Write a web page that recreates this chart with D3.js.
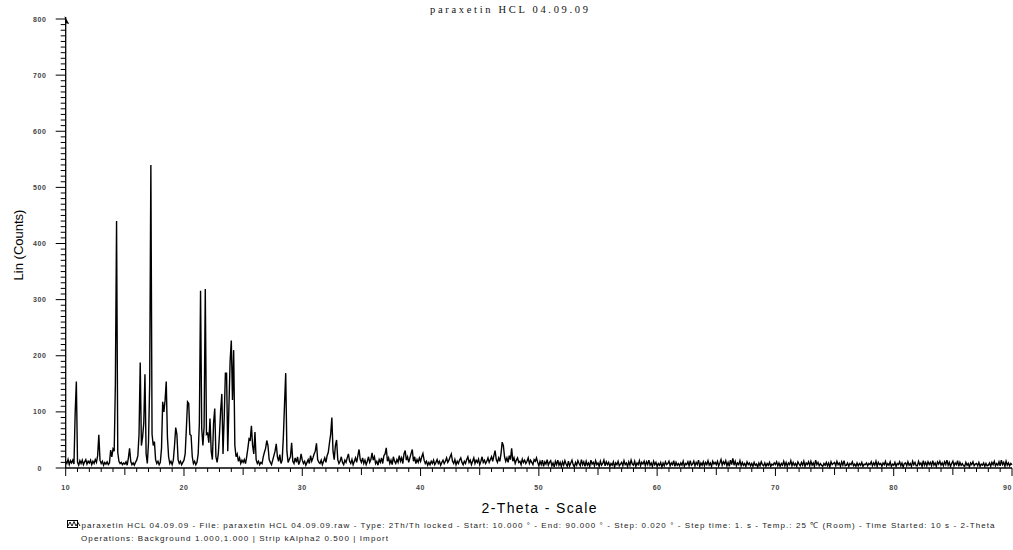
<!DOCTYPE html>
<meta charset="utf-8">
<style type="text/css">
    body { margin: 0; background: #ffffff; }
    svg { display: block; }
    .tick-label { font-family: "Liberation Sans", Arial, sans-serif; font-size: 7px; font-weight: bold; fill: #444; letter-spacing: 0.6px; }
    .footer { font-family: "Liberation Sans", Arial, sans-serif; font-size: 8px; fill: #222; }
</style>
<svg id="chart" width="1013" height="550"></svg>
<script src="https://cdn.jsdelivr.net/npm/d3@7/dist/d3.min.js"></script>
<script>
// scan settings (from the footer): start 10.000, step read at 0.1 deg off the plot
var startTheta = 10;
var stepTheta = 0.1;

// counts, one row per degree (x.0 ... x.9)
var countsPeaks = [ // 10 - 29.9
    12, 8, 15, 6, 13, 9, 14, 7, 98, 154,
    10, 5, 13, 8, 14, 6, 11, 15, 7, 12,
    9, 14, 6, 12, 8, 15, 10, 22, 59, 14,
    8, 12, 5, 10, 7, 11, 6, 9, 32, 20,
    34, 30, 150, 440, 28, 12, 8, 10, 6, 9,
    7, 11, 5, 18, 35, 12, 6, 9, 5, 10,
    14, 22, 60, 188, 40, 55, 80, 167, 25, 8,
    45, 150, 540, 60, 40, 47, 15, 8, 12, 6,
    10, 35, 118, 100, 120, 154, 55, 20, 8, 12,
    6, 14, 40, 72, 60, 15, 8, 12, 6, 10,
    14, 25, 70, 118, 115, 60, 58, 20, 8, 12,
    6, 10, 25, 80, 316, 70, 40, 74, 319, 60,
    62, 45, 88, 30, 15, 80, 106, 20, 10, 25,
    60, 103, 132, 25, 90, 169, 169, 30, 110, 190,
    227, 121, 210, 40, 20, 25, 12, 18, 8, 14,
    10, 15, 8, 20, 35, 52, 50, 75, 40, 25,
    64, 15, 8, 12, 6, 10, 8, 20, 28, 35,
    49, 40, 15, 10, 6, 14, 22, 30, 43, 20,
    12, 24, 8, 14, 55, 114, 169, 30, 10, 15,
    20, 45, 12, 8, 18, 10, 20, 6, 12, 25
];
var countsMid = [ // 30 - 49.9
    14, 8, 12, 5, 10, 15, 8, 22, 12, 18,
    25, 30, 44, 15, 10, 8, 14, 6, 12, 18,
    10, 22, 28, 45, 60, 90, 30, 15, 40, 50,
    15, 8, 12, 20, 10, 6, 14, 10, 18, 25,
    12, 8, 15, 6, 12, 18, 10, 22, 33, 15,
    10, 18, 8, 14, 6, 12, 20, 10, 15, 27,
    14, 20, 8, 12, 5, 15, 10, 18, 8, 22,
    25, 36, 12, 18, 8, 14, 6, 20, 12, 8,
    15, 10, 22, 12, 18, 8, 25, 31, 14, 20,
    10, 18, 26, 33, 12, 20, 8, 15, 10, 18,
    12, 20, 26, 14, 8, 12, 5, 10, 6, 12,
    8, 14, 6, 10, 15, 8, 12, 5, 10, 14,
    8, 12, 18, 10, 14, 20, 25, 12, 8, 15,
    6, 12, 8, 14, 18, 10, 6, 12, 8, 15,
    20, 10, 14, 6, 12, 18, 8, 14, 10, 16,
    6, 12, 20, 10, 14, 8, 12, 18, 10, 15,
    20, 12, 22, 31, 15, 10, 18, 12, 25, 46,
    40, 20, 12, 18, 10, 22, 15, 35, 12, 18,
    8, 14, 18, 10, 12, 6, 16, 10, 14, 8,
    12, 18, 8, 14, 10, 6, 15, 12, 18, 10
];
var countsTail = [ // 50 - 90
    4, 12, 6, 14, 3, 11, 7, 15, 5, 10,
    13, 4, 9, 2, 12, 6, 14, 5, 10, 3,
    11, 5, 13, 7, 3, 12, 4, 9, 14, 6,
    2, 10, 5, 13, 8, 4, 15, 6, 11, 3,
    12, 5, 9, 3, 14, 7, 10, 4, 13, 6,
    9, 3, 12, 5, 8, 14, 4, 11, 6, 10,
    3, 8, 5, 11, 2, 9, 6, 12, 4, 7,
    10, 4, 13, 6, 9, 3, 11, 5, 14, 7,
    5, 12, 3, 9, 6, 13, 4, 10, 7, 12,
    4, 11, 6, 14, 5, 9, 3, 12, 6, 10,
    3, 8, 5, 10, 2, 9, 4, 11, 6, 8,
    12, 4, 9, 6, 13, 3, 10, 5, 8, 4,
    9, 5, 12, 3, 8, 6, 11, 4, 13, 5,
    7, 12, 4, 10, 6, 14, 3, 9, 5, 11,
    4, 10, 6, 13, 5, 9, 3, 12, 7, 10,
    6, 12, 4, 9, 15, 5, 11, 7, 13, 4,
    10, 3, 14, 6, 17, 5, 12, 4, 9, 6,
    13, 4, 10, 5, 8, 3, 11, 6, 9, 4,
    8, 3, 10, 5, 7, 2, 9, 4, 11, 6,
    4, 9, 3, 8, 5, 10, 3, 7, 5, 9,
    6, 11, 4, 9, 3, 8, 5, 12, 4, 10,
    3, 9, 6, 13, 4, 10, 5, 8, 3, 11,
    7, 4, 10, 5, 12, 3, 9, 6, 11, 4,
    12, 5, 9, 3, 14, 6, 10, 4, 8, 5,
    3, 8, 5, 10, 4, 9, 2, 11, 6, 8,
    10, 4, 12, 6, 9, 3, 11, 5, 13, 4,
    5, 9, 3, 8, 6, 11, 4, 7, 3, 9,
    4, 8, 5, 10, 3, 7, 6, 9, 4, 8,
    6, 11, 4, 9, 5, 12, 3, 10, 6, 8,
    3, 9, 6, 12, 4, 8, 5, 11, 3, 7,
    5, 10, 3, 8, 6, 11, 4, 9, 2, 8,
    9, 4, 11, 5, 8, 3, 12, 6, 10, 4,
    4, 12, 6, 9, 3, 13, 5, 10, 4, 11,
    6, 10, 4, 13, 5, 9, 3, 11, 7, 12,
    5, 9, 4, 11, 6, 14, 5, 10, 3, 8,
    12, 4, 9, 6, 13, 3, 10, 5, 8, 4,
    3, 10, 5, 8, 2, 9, 6, 11, 4, 7,
    8, 4, 10, 3, 7, 5, 9, 3, 8, 4,
    5, 9, 3, 10, 6, 12, 4, 8, 5, 11,
    4, 14, 6, 10, 3, 12, 5, 9, 4, 8,
    6
];

var xTickLabels = [10, 20, 30, 40, 50, 60, 70, 80, 90];
var yTickLabels = [0, 100, 200, 300, 400, 500, 600, 700, 800];

var titleText = "paraxetin HCL 04.09.09";
var yTitle = "Lin (Counts)";
var xTitle = "2-Theta - Scale";
var footerLines = [
    "paraxetin HCL 04.09.09 - File: paraxetin HCL 04.09.09.raw - Type: 2Th/Th locked - Start: 10.000 \u00b0 - End: 90.000 \u00b0 - Step: 0.020 \u00b0 - Step time: 1. s - Temp.: 25 \u2103 (Room) - Time Started: 10 s - 2-Theta",
    "Operations: Background 1.000,1.000 | Strip kAlpha2 0.500 | Import"
];

var counts = countsPeaks.concat(countsMid, countsTail);
var scan = counts.map(function (c, i) {
    return { theta: startTheta + i * stepTheta, count: c };
});

var svg = d3.select("#chart");

var x = d3.scaleLinear().domain([10, 90]).range([65.7, 1012]);
var y = d3.scaleLinear().domain([0, 800]).range([468, 19]);

// title
svg.append("text")
    .attr("x", 509).attr("y", 12.5)
    .attr("text-anchor", "middle")
    .attr("textLength", 158).attr("lengthAdjust", "spacing")
    .style("font-family", "\"Liberation Serif\", \"Times New Roman\", serif")
    .style("font-size", "10.5px")
    .style("fill", "#111")
    .text(titleText);

// y axis
var yAxis = svg.append("g");
yAxis.append("line")
    .attr("x1", x(10)).attr("x2", x(10))
    .attr("y1", y(0)).attr("y2", y(800) - 2)
    .attr("stroke", "#000").attr("stroke-width", 1.3);
yAxis.append("path")
    .attr("d", "M" + (x(10) - 1) + "," + (y(800) - 3) + "L" + (x(10) + 3.5) + "," + (y(800) + 5) + "L" + (x(10) - 0.5) + "," + (y(800) + 4) + "Z")
    .attr("fill", "#000");
yAxis.selectAll("line.ytick")
    .data(d3.range(0, 801, 10))
    .enter().append("line")
    .attr("class", "ytick")
    .attr("x1", function (d) { return x(10) - (d % 100 === 0 ? 10 : 5); })
    .attr("x2", x(10))
    .attr("y1", function (d) { return y(d); })
    .attr("y2", function (d) { return y(d); })
    .attr("stroke", "#000").attr("stroke-width", 1);
yAxis.selectAll("text")
    .data(yTickLabels)
    .enter().append("text")
    .attr("class", "tick-label")
    .attr("x", function (d) { return d === 0 ? 42 : 46.5; })
    .attr("y", function (d) { return y(d) + 2.5; })
    .attr("text-anchor", "end")
    .text(function (d) { return d; });

// x axis
var xAxis = svg.append("g");
xAxis.append("line")
    .attr("x1", x(10)).attr("x2", x(90))
    .attr("y1", y(0)).attr("y2", y(0))
    .attr("stroke", "#000").attr("stroke-width", 1.3);
xAxis.selectAll("line.xtick")
    .data(d3.range(10, 91, 1))
    .enter().append("line")
    .attr("class", "xtick")
    .attr("x1", function (d) { return x(d); })
    .attr("x2", function (d) { return x(d); })
    .attr("y1", y(0))
    .attr("y2", function (d) { return y(0) + (d % 10 === 0 ? 8 : (d % 5 === 0 ? 7 : 4)); })
    .attr("stroke", "#000").attr("stroke-width", 1);
xAxis.selectAll("text")
    .data(xTickLabels)
    .enter().append("text")
    .attr("class", "tick-label")
    // the last label sits at the right edge, keep it inside the page
    .attr("x", function (d) { return d === 90 ? 1012 : x(d); })
    .attr("y", 490)
    .attr("text-anchor", function (d) { return d === 90 ? "end" : "middle"; })
    .text(function (d) { return d; });

// the scan
var line = d3.line()
    .x(function (d) { return x(d.theta); })
    .y(function (d) { return y(d.count); });
svg.append("path")
    .datum(scan)
    .attr("d", line)
    .attr("fill", "none")
    .attr("stroke", "#000")
    .attr("stroke-width", 1.4)
    .attr("stroke-linejoin", "miter");

// axis titles
svg.append("text")
    .attr("transform", "translate(23,245) rotate(-90)")
    .attr("text-anchor", "middle")
    .style("font-family", "\"Liberation Sans\", Arial, sans-serif")
    .style("font-size", "13px")
    .text(yTitle);
svg.append("text")
    .attr("x", 539).attr("y", 513)
    .attr("text-anchor", "middle")
    .attr("textLength", 115).attr("lengthAdjust", "spacing")
    .style("font-family", "\"Liberation Sans\", Arial, sans-serif")
    .style("font-size", "14px")
    .text(xTitle);

// footer with the little scan icon
var icon = svg.append("g");
icon.append("rect")
    .attr("x", 67.5).attr("y", 520.5).attr("width", 10).attr("height", 7)
    .attr("fill", "none").attr("stroke", "#000").attr("stroke-width", 1);
icon.append("path")
    .attr("d", "M68,526 L70,522 L72,526 L74,521.5 L76,526 L78,522.5 L80,526")
    .attr("fill", "none").attr("stroke", "#000").attr("stroke-width", 0.9);
svg.append("text")
    .attr("class", "footer")
    .attr("x", 81.5).attr("y", 527.5)
    .attr("textLength", 913).attr("lengthAdjust", "spacing")
    .text(footerLines[0]);
svg.append("text")
    .attr("class", "footer")
    .attr("x", 81).attr("y", 540.5)
    .attr("textLength", 307).attr("lengthAdjust", "spacing")
    .text(footerLines[1]);
</script>
